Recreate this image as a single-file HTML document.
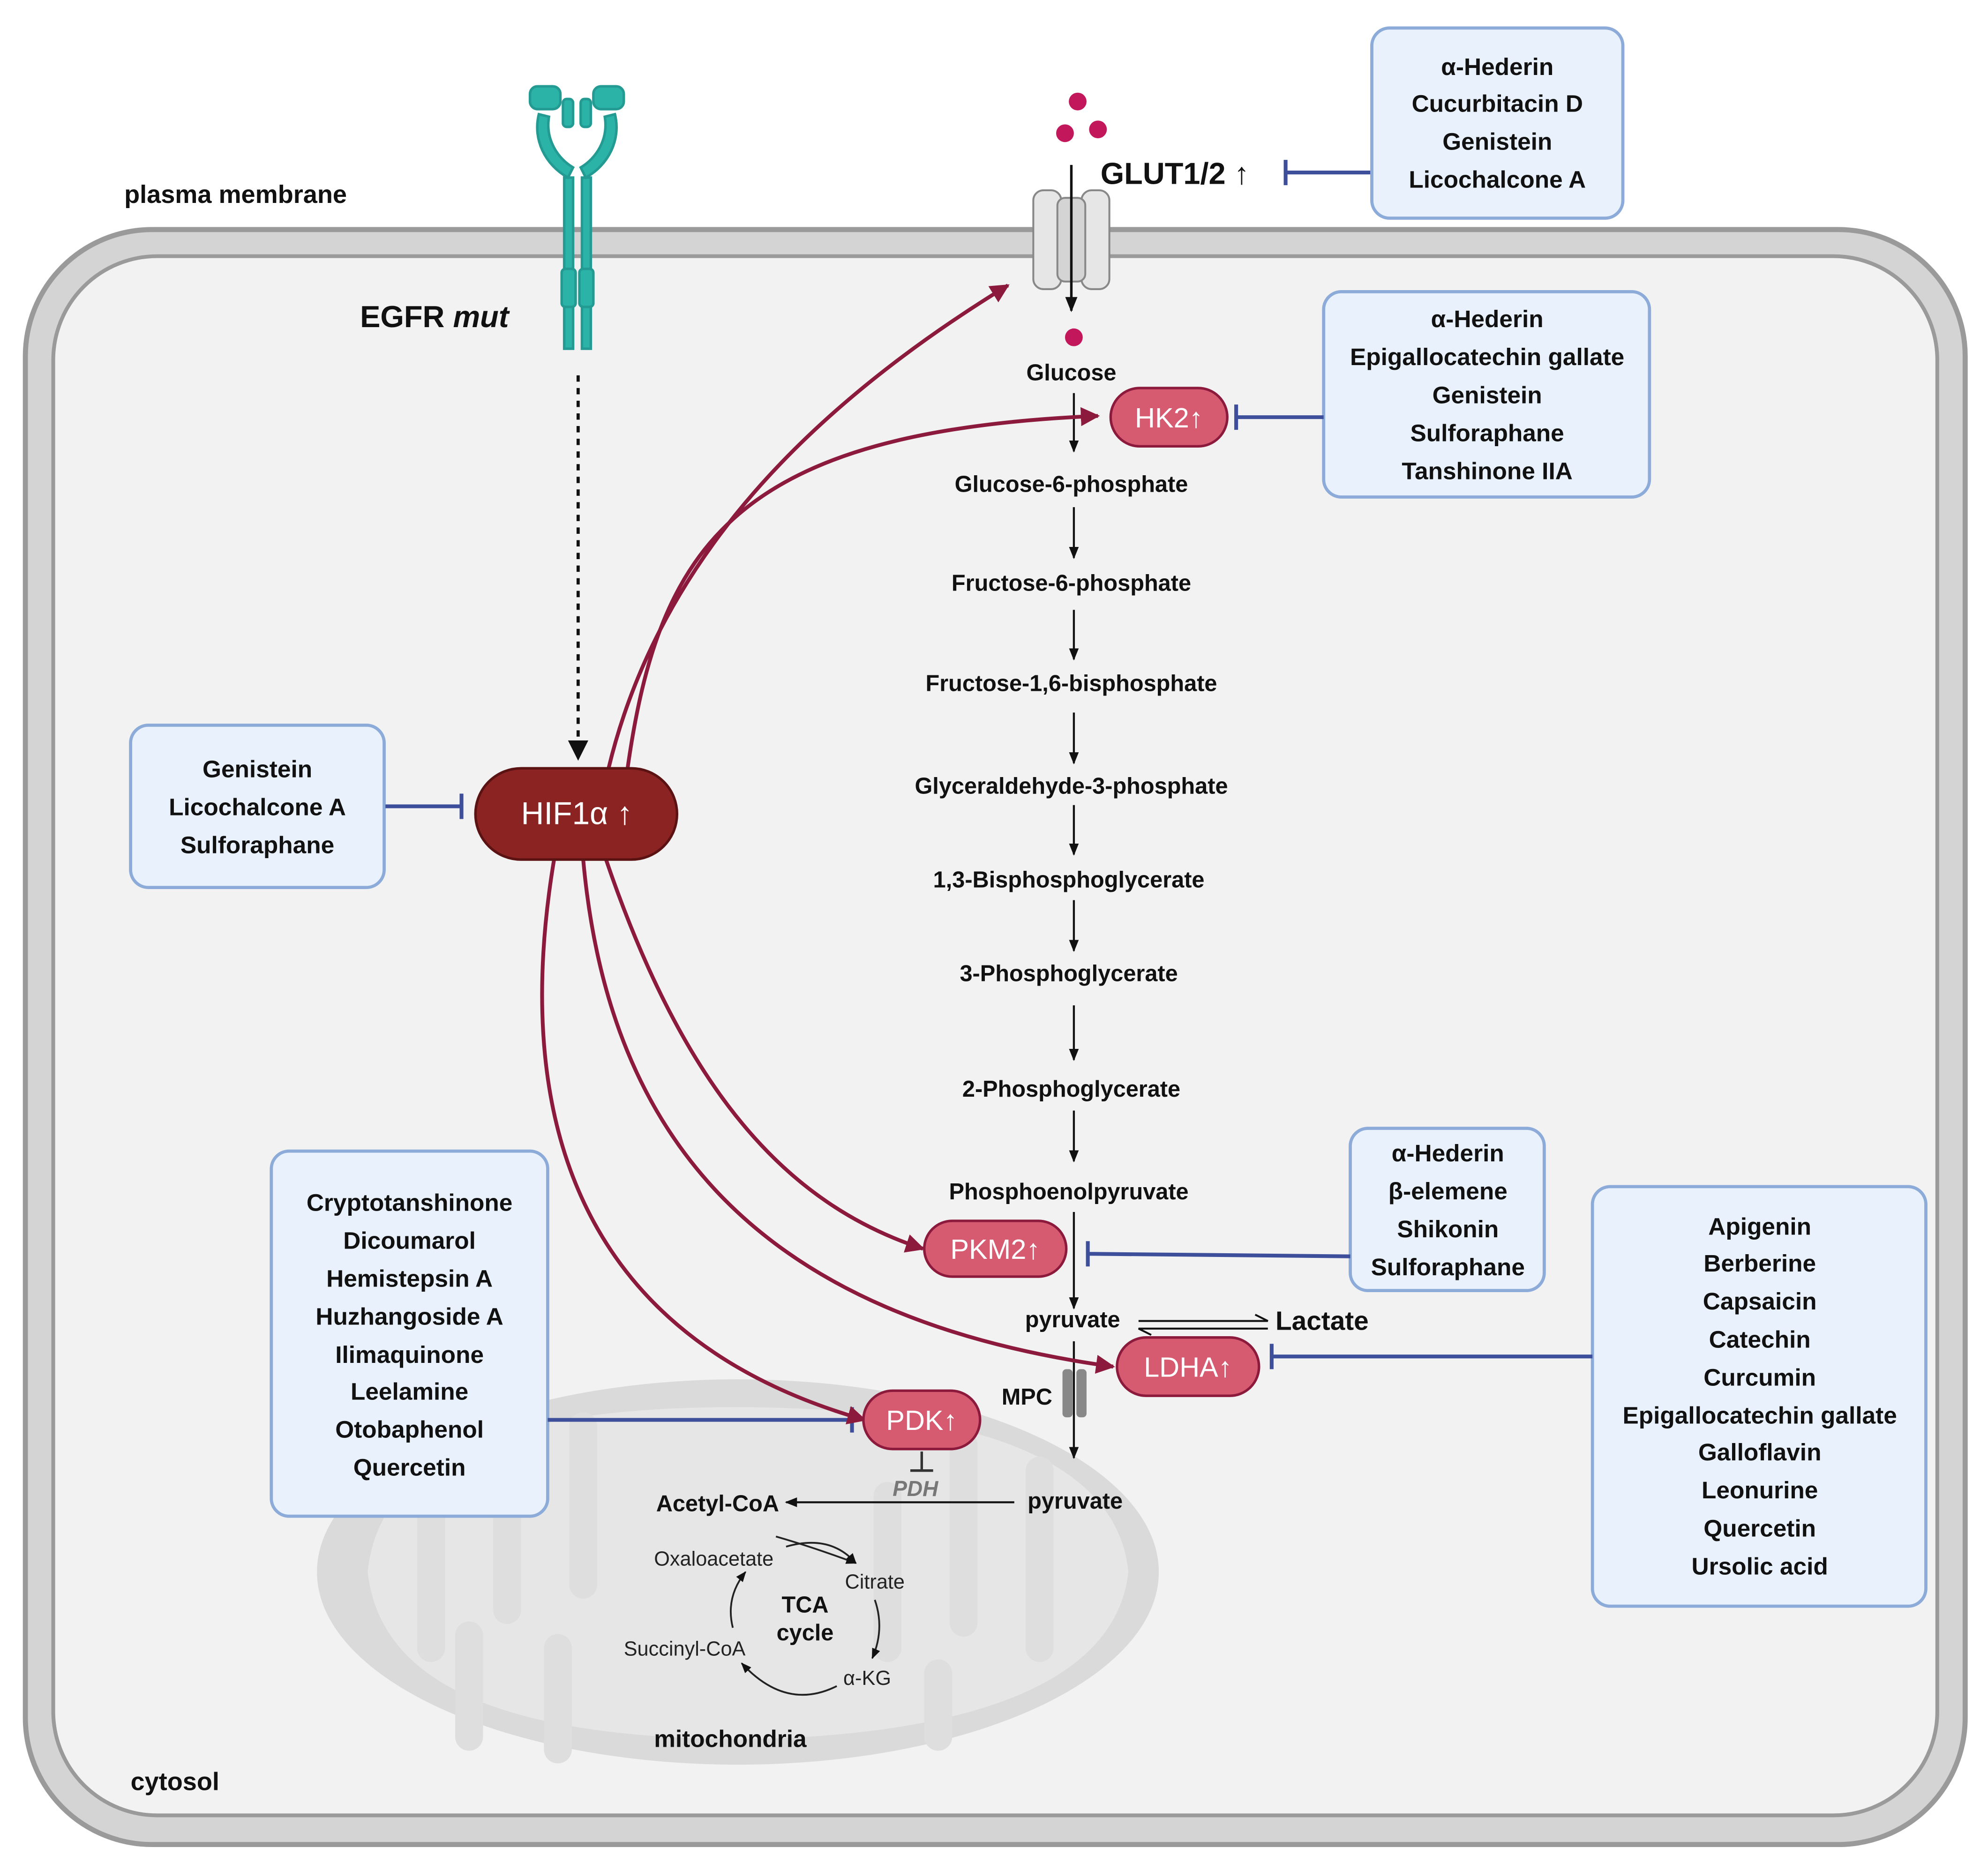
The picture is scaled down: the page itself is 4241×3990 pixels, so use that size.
<!DOCTYPE html>
<html><head><meta charset="utf-8"><style>
html,body{margin:0;padding:0;background:#fff;}
svg{display:block;}
text{font-family:"Liberation Sans","DejaVu Sans",sans-serif;}
.b{font-weight:bold;font-size:19px;fill:#111;text-anchor:middle;}
.m{font-weight:bold;font-size:18px;fill:#111;text-anchor:middle;}
.s{font-size:16px;fill:#222;text-anchor:middle;}
.box{fill:#e9f2fc;stroke:#8cabd9;stroke-width:2.5;}
.red{fill:none;stroke:#8c1a3c;stroke-width:3;}
.inh{fill:none;stroke:#3d4f9a;stroke-width:3;}
.blk{stroke:#111;stroke-width:1.6;fill:none;}
.enz{fill:#d65b70;stroke:#8c1a3c;stroke-width:2;}
.et{fill:#fff;font-size:22px;text-anchor:middle;}
</style></head><body>
<svg width="4241" height="3990" viewBox="0 0 1568 1475" xmlns="http://www.w3.org/2000/svg">
<defs>
<marker id="ar" viewBox="0 0 10 10" refX="9" refY="5" markerWidth="5" markerHeight="5" orient="auto"><path d="M0,0L10,5L0,10z" fill="#8c1a3c"/></marker>
<marker id="ak" viewBox="0 0 10 10" refX="9" refY="5" markerWidth="6" markerHeight="6" orient="auto"><path d="M0,1L10,5L0,9z" fill="#111"/></marker>
</defs>
<rect width="1568" height="1475" fill="#fff"/>
<rect x="20" y="181" width="1530" height="1274" rx="100" fill="#d4d4d4" stroke="#9a9a9a" stroke-width="4"/>
<rect x="42" y="202" width="1486" height="1230" rx="82" fill="#f2f2f2" stroke="#9a9a9a" stroke-width="3"/>
<text x="98" y="160" style="font-size:20px;font-weight:bold" fill="#111">plasma membrane</text>
<text x="103" y="1412" style="font-size:20px;font-weight:bold" fill="#111">cytosol</text>
<ellipse cx="582" cy="1240" rx="332" ry="152" fill="#dadada"/>
<path d="M290,1240 C300,1140 420,1110 580,1110 C740,1110 880,1140 890,1240 C880,1330 760,1370 580,1372 C400,1370 300,1330 290,1240Z" fill="#e6e6e6"/>
<g fill="none" stroke="#dedede" stroke-width="22" stroke-linecap="round">
<path d="M340,1180 L340,1300"/><path d="M400,1140 L400,1270"/><path d="M460,1125 L460,1250"/><path d="M700,1180 L700,1300"/><path d="M760,1140 L760,1280"/><path d="M820,1160 L820,1300"/><path d="M370,1370 L370,1290"/><path d="M440,1380 L440,1300"/><path d="M740,1370 L740,1320"/>
</g>
<text x="576" y="1378" class="b">mitochondria</text>
<g stroke="#239a92" fill="#2bb3a8" stroke-width="2">
<rect x="445" y="140" width="7" height="135"/><rect x="459" y="140" width="7" height="135"/>
<rect x="443" y="212" width="11" height="30" rx="3"/><rect x="457" y="212" width="11" height="30" rx="3"/>
<path d="M448,140 C430,130 420,110 425,90 L433,92 C430,110 440,125 452,132Z"/>
<path d="M462,140 C480,130 490,110 485,90 L477,92 C480,110 470,125 458,132Z"/>
<rect x="418" y="68" width="24" height="18" rx="6"/><rect x="468" y="68" width="24" height="18" rx="6"/>
<rect x="444" y="78" width="8" height="22" rx="3"/><rect x="458" y="78" width="8" height="22" rx="3"/>
</g>
<text x="284" y="258" style="font-size:24px;font-weight:bold" fill="#111">EGFR <tspan font-style="italic">mut</tspan></text>
<line x1="456" y1="296" x2="456" y2="596" stroke="#111" stroke-width="2.5" stroke-dasharray="5,5"/>
<path d="M448,584 L456,600 L464,584Z" fill="#111"/>
<g fill="#e6e6e6" stroke="#888" stroke-width="1.5">
<rect x="815" y="150" width="22" height="78" rx="8"/><rect x="853" y="150" width="22" height="78" rx="8"/>
<rect x="834" y="156" width="22" height="66" rx="6" fill="#d4d4d4"/>
</g>
<circle cx="850" cy="80" r="7" fill="#c2185b"/><circle cx="840" cy="105" r="7" fill="#c2185b"/><circle cx="866" cy="102" r="7" fill="#c2185b"/>
<circle cx="847" cy="266" r="7" fill="#c2185b"/>
<line x1="845" y1="130" x2="845" y2="245" stroke="#111" stroke-width="2" marker-end="url(#ak)"/>
<text x="868" y="145" style="font-size:24px;font-weight:bold" fill="#111">GLUT1/2 ↑</text>
<path d="M1014,136 L1082,136 M1014,126 L1014,146" class="inh"/>
<rect x="1082" y="22" width="198" height="150" rx="14" class="box"/>
<text x="1181" y="59" class="b">α-Hederin</text><text x="1181" y="88" class="b">Cucurbitacin D</text><text x="1181" y="118" class="b">Genistein</text><text x="1181" y="148" class="b">Licochalcone A</text>
<rect x="1044" y="230" width="257" height="162" rx="14" class="box"/>
<text x="1173" y="258" class="b">α-Hederin</text><text x="1173" y="288" class="b">Epigallocatechin gallate</text><text x="1173" y="318" class="b">Genistein</text><text x="1173" y="348" class="b">Sulforaphane</text><text x="1173" y="378" class="b">Tanshinone IIA</text>
<rect x="103" y="572" width="200" height="128" rx="14" class="box"/>
<text x="203" y="613" class="b">Genistein</text><text x="203" y="643" class="b">Licochalcone A</text><text x="203" y="673" class="b">Sulforaphane</text>
<rect x="1065" y="890" width="153" height="128" rx="14" class="box"/>
<text x="1142" y="916" class="b">α-Hederin</text><text x="1142" y="946" class="b">β-elemene</text><text x="1142" y="976" class="b">Shikonin</text><text x="1142" y="1006" class="b">Sulforaphane</text>
<rect x="214" y="908" width="218" height="288" rx="14" class="box"/>
<g class="b"><text x="323" y="955">Cryptotanshinone</text><text x="323" y="985">Dicoumarol</text><text x="323" y="1015">Hemistepsin A</text><text x="323" y="1045">Huzhangoside A</text><text x="323" y="1075">Ilimaquinone</text><text x="323" y="1104">Leelamine</text><text x="323" y="1134">Otobaphenol</text><text x="323" y="1164">Quercetin</text></g>
<rect x="1256" y="936" width="263" height="331" rx="14" class="box"/>
<g class="b"><text x="1388" y="974">Apigenin</text><text x="1388" y="1003">Berberine</text><text x="1388" y="1033">Capsaicin</text><text x="1388" y="1063">Catechin</text><text x="1388" y="1093">Curcumin</text><text x="1388" y="1123">Epigallocatechin gallate</text><text x="1388" y="1152">Galloflavin</text><text x="1388" y="1182">Leonurine</text><text x="1388" y="1212">Quercetin</text><text x="1388" y="1242">Ursolic acid</text></g>
<path d="M975,329 L1044,329 M975,319 L975,339" class="inh"/>
<path d="M304,636 L364,636 M364,626 L364,646" class="inh"/>
<path d="M858,989 L1065,991 M858,979 L858,999" class="inh"/>
<path d="M1003,1070 L1256,1070 M1003,1060 L1003,1080" class="inh"/>
<path d="M432,1120 L672,1120 M672,1110 L672,1130" class="inh"/>
<g class="m">
<text x="845" y="300">Glucose</text>
<text x="845" y="388">Glucose-6-phosphate</text>
<text x="845" y="466">Fructose-6-phosphate</text>
<text x="845" y="545">Fructose-1,6-bisphosphate</text>
<text x="845" y="626">Glyceraldehyde-3-phosphate</text>
<text x="843" y="700">1,3-Bisphosphoglycerate</text>
<text x="843" y="774">3-Phosphoglycerate</text>
<text x="845" y="865">2-Phosphoglycerate</text>
<text x="843" y="946">Phosphoenolpyruvate</text>
<text x="846" y="1047">pyruvate</text>
<text x="848" y="1190">pyruvate</text>
<text x="566" y="1192">Acetyl-CoA</text>
<text x="810" y="1108">MPC</text>
</g>
<g class="blk" marker-end="url(#ak)">
<line x1="847" y1="310" x2="847" y2="356"/><line x1="847" y1="400" x2="847" y2="440"/><line x1="847" y1="481" x2="847" y2="520"/><line x1="847" y1="562" x2="847" y2="602"/><line x1="847" y1="635" x2="847" y2="674"/><line x1="847" y1="710" x2="847" y2="750"/><line x1="847" y1="793" x2="847" y2="836"/><line x1="847" y1="876" x2="847" y2="916"/><line x1="847" y1="956" x2="847" y2="1032"/><line x1="847" y1="1058" x2="847" y2="1150"/><line x1="800" y1="1185" x2="620" y2="1185"/>
</g>
<rect x="838" y="1080" width="8" height="38" rx="3" fill="#888"/><rect x="849" y="1080" width="8" height="38" rx="3" fill="#888"/>
<text x="1006" y="1049" style="font-size:21px;font-weight:bold" fill="#111">Lactate</text>
<path d="M898,1042 L1000,1042 L990,1037 M1000,1048 L898,1048 L908,1053" stroke="#111" stroke-width="1.5" fill="none"/>
<path d="M727,1145 L727,1160 M718,1160 L736,1160" stroke="#333" stroke-width="2"/>
<text x="722" y="1180" style="font-size:17px;font-style:italic;font-weight:bold" fill="#777" text-anchor="middle">PDH</text>
<g class="s"><text x="563" y="1235">Oxaloacetate</text><text x="690" y="1253">Citrate</text><text x="540" y="1306">Succinyl-CoA</text><text x="684" y="1329">α-KG</text></g>
<text x="635" y="1272" class="m">TCA</text><text x="635" y="1294" class="m">cycle</text>
<g stroke="#222" stroke-width="1.4" fill="none" marker-end="url(#ak)">
<path d="M612,1212 Q640,1220 675,1233"/><path d="M620,1220 Q655,1210 675,1233"/>
<path d="M690,1262 Q698,1285 688,1308"/><path d="M660,1330 Q620,1350 585,1312"/><path d="M578,1284 Q572,1260 588,1240"/>
</g>
<g class="red" marker-end="url(#ar)">
<path d="M480,606 C520,440 640,320 795,225"/>
<path d="M495,606 C520,430 580,340 866,328"/>
<path d="M478,678 C540,860 620,950 728,985"/>
<path d="M460,678 C480,900 600,1040 878,1078"/>
<path d="M437,678 C400,900 470,1060 682,1120"/>
</g>
<rect x="375" y="606" width="159" height="72" rx="36" fill="#8b2323" stroke="#5a1212" stroke-width="2"/>
<text x="455" y="650" class="et" style="font-size:25px">HIF1α ↑</text>
<rect x="876" y="306" width="92" height="46" rx="23" class="enz"/><text x="922" y="337" class="et">HK2↑</text>
<rect x="729" y="963" width="112" height="44" rx="22" class="enz"/><text x="785" y="993" class="et">PKM2↑</text>
<rect x="881" y="1055" width="112" height="46" rx="23" class="enz"/><text x="937" y="1086" class="et">LDHA↑</text>
<rect x="681" y="1097" width="92" height="46" rx="23" class="enz"/><text x="727" y="1128" class="et">PDK↑</text>
</svg>
</body></html>
